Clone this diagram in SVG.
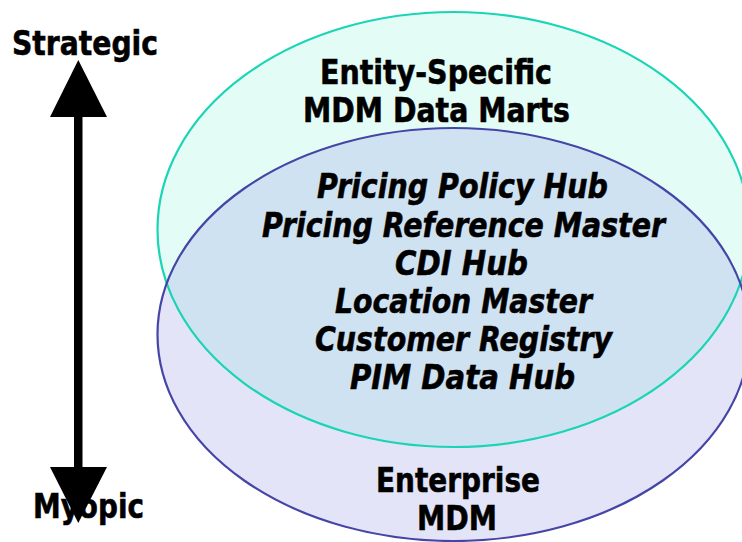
<svg xmlns="http://www.w3.org/2000/svg" width="742" height="542" viewBox="0 0 742 542">
  <style>
    text { font-family: "DejaVu Sans", "Liberation Sans", sans-serif; font-weight: bold; fill: #000; stroke: #000; stroke-width: 0.6; }
    .lbl { font-size: 33px; }
    .it { font-size: 33px; font-style: italic; }
    .teal-fill { fill: #e3fcf5; }
    .blue-fill { fill: #e4e4f8; }
    .both-fill { fill: #cfe2f2; }
    .teal-line { fill: none; stroke: #1ad5b5; stroke-width: 2.2; }
    .blue-line { fill: none; stroke: #4545a6; stroke-width: 2.2; }
  </style>
  <defs>
    <clipPath id="clipTeal">
      <ellipse cx="453.5" cy="229.5" rx="296" ry="217.5"/>
    </clipPath>
  </defs>
  <rect width="742" height="542" fill="#ffffff"/>

  <g id="entity-specific">
    <ellipse class="teal-fill" cx="453.5" cy="229.5" rx="296" ry="217.5"/>
  </g>
  <g id="enterprise">
    <ellipse class="blue-fill" cx="453.5" cy="334.5" rx="296" ry="206.5"/>
  </g>
  <g id="overlap">
    <ellipse class="both-fill" cx="453.5" cy="334.5" rx="296" ry="206.5" clip-path="url(#clipTeal)"/>
  </g>
  <ellipse class="teal-line" cx="453.5" cy="229.5" rx="296" ry="217.5"/>
  <ellipse class="blue-line" cx="453.5" cy="334.5" rx="296" ry="206.5"/>

  <g id="entity-label">
    <text class="lbl" x="320" y="84" textLength="232" lengthAdjust="spacingAndGlyphs">Entity-Specific</text>
    <text class="lbl" x="303" y="122" textLength="267" lengthAdjust="spacingAndGlyphs">MDM Data Marts</text>
  </g>
  <g id="hub-list">
    <text class="it" x="317" y="198" textLength="291" lengthAdjust="spacingAndGlyphs">Pricing Policy Hub</text>
    <text class="it" x="262" y="237" textLength="403" lengthAdjust="spacingAndGlyphs">Pricing Reference Master</text>
    <text class="it" x="395" y="275" textLength="133" lengthAdjust="spacingAndGlyphs">CDI Hub</text>
    <text class="it" x="335" y="313" textLength="257" lengthAdjust="spacingAndGlyphs">Location Master</text>
    <text class="it" x="315" y="351" textLength="297" lengthAdjust="spacingAndGlyphs">Customer Registry</text>
    <text class="it" x="350" y="389" textLength="225" lengthAdjust="spacingAndGlyphs">PIM Data Hub</text>
  </g>
  <g id="enterprise-label">
    <text class="lbl" x="376" y="492" textLength="164" lengthAdjust="spacingAndGlyphs">Enterprise</text>
    <text class="lbl" x="417" y="530" textLength="80" lengthAdjust="spacingAndGlyphs">MDM</text>
  </g>

  <g id="strategic">
    <text class="lbl" x="12" y="55" textLength="146" lengthAdjust="spacingAndGlyphs">Strategic</text>
  </g>
  <g id="myopic">
    <text class="lbl" x="33" y="518" textLength="111" lengthAdjust="spacingAndGlyphs">Myopic</text>
  </g>

  <g id="connectors">
    <rect x="74" y="116" width="8.5" height="352" fill="#000"/>
    <polygon points="78.3,60 50,117 107,117" fill="#000"/>
    <polygon points="50,467 107,467 78.3,523" fill="#000"/>
  </g>
</svg>
